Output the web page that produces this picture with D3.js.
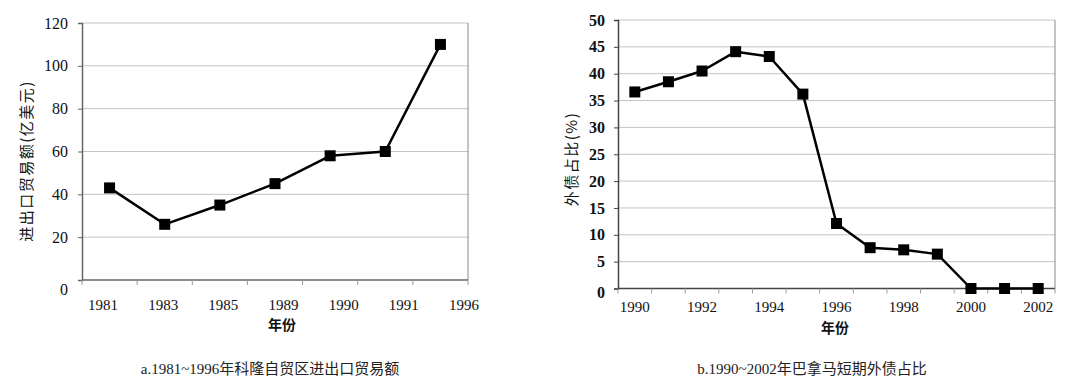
<!DOCTYPE html>
<html>
<head>
<meta charset="utf-8">
<script src="https://cdn.jsdelivr.net/npm/d3@7"></script>
<style>
body { margin: 0; background: #fff; }
svg { display: block; }
.grid line { stroke: #c4c4c4; stroke-width: 1; }
.num { font-family: "Liberation Serif", "DejaVu Serif", serif; font-size: 15px; fill: #111; }
.ynum { font-family: "Liberation Serif", "DejaVu Serif", serif; font-size: 16px; fill: #111; }
.cjk { font-family: "Noto Sans CJK SC", sans-serif; font-size: 14px; fill: #111; }
.ytitle { font-family: "Noto Sans CJK SC", sans-serif; font-size: 15px; fill: #111; letter-spacing: 1.5px; }
.cap { font-family: "Liberation Serif", "Noto Sans CJK SC", serif; font-size: 15px; fill: #222; }
</style>
</head>
<body>
<div id="chart"></div>
<script>
// chart a: 科隆自贸区进出口贸易额
const yearsA = ['1981', '1983', '1985', '1989', '1990', '1991', '1996'];
const tradeA = [43, 26, 35, 45, 58, 60, 110];
const yTicksA = [0, 20, 40, 60, 80, 100, 120];

// chart b: 巴拿马短期外债占比
const yearsB = ['1990', '1991', '1992', '1993', '1994', '1995', '1996', '1997', '1998', '1999', '2000', '2001', '2002'];
const debtB = [36.6, 38.5, 40.5, 44.1, 43.2, 36.2, 12.1, 7.6, 7.2, 6.4, 0, 0, 0];
const yTicksB = [0, 5, 10, 15, 20, 25, 30, 35, 40, 45, 50];
const xLabelsB = ['1990', '1992', '1994', '1996', '1998', '2000', '2002'];

const svg = d3.select('#chart').append('svg')
.attr('width', 1071)
.attr('height', 386)

function drawPanel(opt) {
	const g = svg.append('g');
	const x = d3.scaleBand().domain(opt.cats).range([opt.left, opt.right]);
	const y = d3.scaleLinear().domain(opt.yDomain).range([opt.bottom, opt.top]);

	// gridlines
	g.append('g').attr('class', 'grid')
	.selectAll('line')
	.data(opt.yTicks.filter(d => d > 0))
	.enter()
	.append('line')
	.attr('x1', opt.left)
	.attr('x2', opt.right)
	.attr('y1', d => y(d))
	.attr('y2', d => y(d))

	// right border
	g.append('line')
	.attr('x1', opt.right).attr('x2', opt.right)
	.attr('y1', opt.top).attr('y2', opt.bottom)
	.attr('stroke', '#888')

	// left axis
	const ya = g.append('g')
	.attr('transform', `translate(${opt.left},0)`)
	.call(d3.axisLeft(y).tickValues(opt.yTicks).tickSize(4).tickPadding(opt.yPad).tickFormat(d3.format('d')))
	ya.select('.domain').attr('stroke', opt.axisColor).attr('stroke-width', 1.5)
	ya.selectAll('.tick line').attr('stroke', opt.axisColor)
	ya.selectAll('text').attr('class', 'ynum').attr('font-weight', opt.yBold ? 'bold' : 'normal')
	ya.selectAll('.tick').filter(d => d === 0).select('text').attr('dy', opt.zeroDy)

	// bottom axis: ticks at band edges
	const xb = g.append('g')
	.attr('transform', `translate(0,${opt.bottom})`)
	xb.append('line')
	.attr('x1', opt.left).attr('x2', opt.right)
	.attr('stroke', opt.axisColor).attr('stroke-width', 1.5)
	xb.selectAll('.edge')
	.data(opt.cats.concat(['__end']))
	.enter()
	.append('line')
	.attr('class', 'edge')
	.attr('x1', d => d === '__end' ? opt.right : x(d))
	.attr('x2', d => d === '__end' ? opt.right : x(d))
	.attr('y2', 5)
	.attr('stroke', '#999')

	// x labels
	const xl = opt.labelScale ? opt.labelScale : (d => x(d) + x.bandwidth() / 2);
	xb.selectAll('.xl')
	.data(opt.xLabels)
	.enter()
	.append('text')
	.attr('class', 'num')
	.attr('x', d => xl(d))
	.attr('y', opt.xLabelY)
	.attr('text-anchor', 'middle')
	.text(d => d)

	// axis titles
	g.append('text')
	.attr('class', 'cjk')
	.attr('x', opt.xTitleX)
	.attr('y', opt.xTitleY)
	.attr('text-anchor', 'middle')
	.attr('font-weight', 'bold')
	.text('年份')

	g.append('text')
	.attr('class', 'ytitle')
	.attr('transform', `translate(${opt.yTitleX},${opt.yTitleY}) rotate(-90)`)
	.attr('text-anchor', 'middle')
	.text(opt.yTitle)

	// line + markers
	const pts = opt.cats.map((c, i) => [x(c) + x.bandwidth() / 2, y(opt.values[i])]);
	g.append('path')
	.attr('d', d3.line()(pts))
	.attr('fill', 'none')
	.attr('stroke', '#000')
	.attr('stroke-width', 2.5)
	.attr('stroke-linejoin', 'round')

	g.selectAll('.mk')
	.data(pts)
	.enter()
	.append('rect')
	.attr('x', d => d[0] - 5.5)
	.attr('y', d => d[1] - 5.5)
	.attr('width', 11)
	.attr('height', 11)
	.attr('fill', '#000')

	// caption
	g.append('text')
	.attr('class', 'cap')
	.attr('x', opt.capX)
	.attr('y', 374)
	.attr('text-anchor', 'middle')
	.text(opt.caption)
}

// left panel: labels in the source are evenly spread, not at band centres
const labelA = d3.scalePoint().domain(yearsA).range([103, 464]);

drawPanel({
	cats: yearsA, values: tradeA, yTicks: yTicksA, yDomain: [0, 120],
	left: 82, right: 468, top: 23, bottom: 280,
	xLabels: yearsA, labelScale: labelA, xLabelY: 30,
	axisColor: '#666', yPad: 10, yBold: false, zeroDy: '0.9em',
	xTitleX: 282, xTitleY: 330,
	yTitle: '进出口贸易额(亿美元)', yTitleX: 32, yTitleY: 161,
	capX: 270, caption: 'a.1981~1996年科隆自贸区进出口贸易额'
});

drawPanel({
	cats: yearsB, values: debtB, yTicks: yTicksB, yDomain: [0, 50],
	left: 618, right: 1055, top: 20, bottom: 288.5,
	xLabels: xLabelsB, xLabelY: 23,
	axisColor: '#444', yPad: 9, yBold: true, zeroDy: '0.55em',
	xTitleX: 835, xTitleY: 333,
	yTitle: '外债占比(%)', yTitleX: 577, yTitleY: 159,
	capX: 812, caption: 'b.1990~2002年巴拿马短期外债占比'
});
</script>
</body>
</html>
